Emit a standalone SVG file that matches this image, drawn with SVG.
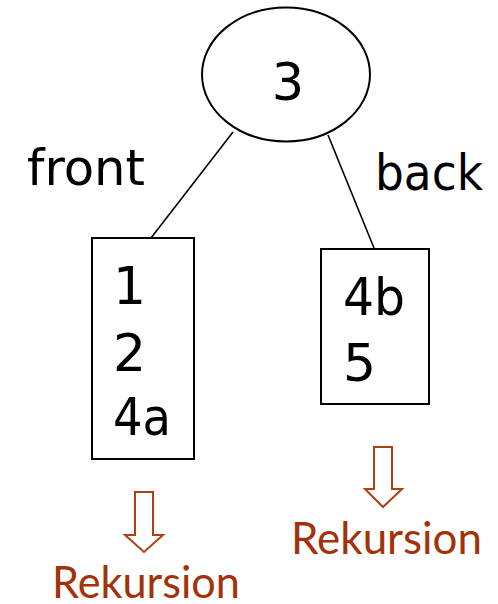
<svg xmlns="http://www.w3.org/2000/svg" width="498" height="604" viewBox="0 0 498 604">
<style>
.shape{fill:#fff;stroke:#000;stroke-width:2}
.edge{stroke:#000;stroke-width:1.6;fill:none}
.t{font-family:"DejaVu Sans","Noto Sans",sans-serif;fill:#000}
.r{font-family:Lato,"DejaVu Sans",sans-serif;fill:#a3320a;font-size:44px}
.arr{fill:#fff;stroke:#b04010;stroke-width:2;stroke-linejoin:miter}
</style>
<rect width="498" height="604" fill="#fff"/>
<g id="connectors">
<line class="edge" x1="233" y1="132" x2="151" y2="238"/>
<line class="edge" x1="328" y1="135" x2="374" y2="248"/>
</g>
<g id="root">
<ellipse class="shape" cx="286" cy="74.5" rx="84" ry="67"/>
<text class="t" x="288" y="100" font-size="51" text-anchor="middle">3</text>
</g>
<g id="front-label"><text class="t" x="27" y="185" font-size="50" textLength="118" lengthAdjust="spacingAndGlyphs">front</text></g>
<g id="back-label"><text class="t" x="375" y="190" font-size="50" textLength="108" lengthAdjust="spacingAndGlyphs">back</text></g>
<g id="front-box">
<rect class="shape" x="92" y="238" width="102" height="221"/>
<text class="t" x="113" y="304" font-size="52">1</text>
<text class="t" x="113" y="371" font-size="52">2</text>
<text class="t" x="113" y="435" font-size="52" textLength="58" lengthAdjust="spacingAndGlyphs">4a</text>
</g>
<g id="back-box">
<rect class="shape" x="321" y="249" width="108" height="155"/>
<text class="t" x="343" y="315" font-size="52" textLength="62" lengthAdjust="spacingAndGlyphs">4b</text>
<text class="t" x="343" y="381" font-size="52">5</text>
</g>
<g id="front-rec">
<polygon class="arr" points="135,492 153,492 153,535 163,535 144,552 125,535 135,535"/>
<text class="r" x="52" y="598" textLength="188" lengthAdjust="spacingAndGlyphs">Rekursion</text>
</g>
<g id="back-rec">
<polygon class="arr" points="374,447 392,447 392,489 402,489 383,507 365,489 374,489"/>
<text class="r" x="291" y="554" textLength="191" lengthAdjust="spacingAndGlyphs">Rekursion</text>
</g>
</svg>
